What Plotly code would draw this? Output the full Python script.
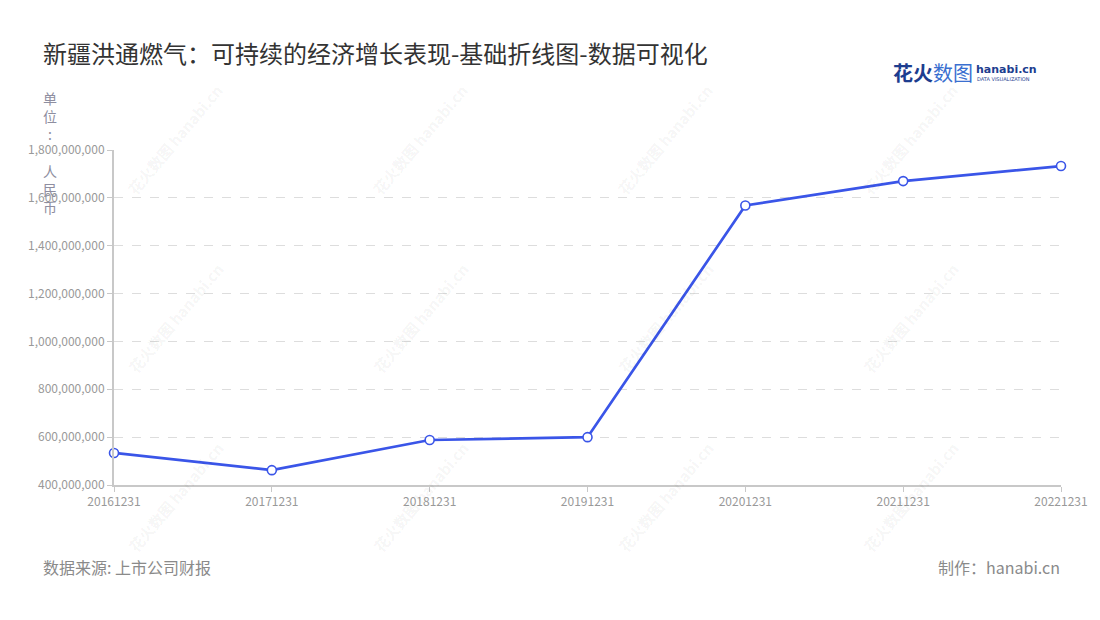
import plotly.graph_objects as go

categories = ["20161231", "20171231", "20181231", "20191231", "20201231", "20211231", "20221231"]
values = [534000000, 462000000, 588000000, 600000000, 1568000000, 1670000000, 1733000000]
y_ticks = [400000000, 600000000, 800000000, 1000000000, 1200000000, 1400000000, 1600000000, 1800000000]

title_text = "新疆洪通燃气：可持续的经济增长表现-基础折线图-数据可视化"
unit_text = "单<br>位<br>:<br> <br>人<br>民<br>币"
source_text = "数据来源: 上市公司财报"
maker_text = "制作：hanabi.cn"

FONT = "Noto Sans CJK SC, Noto Sans, sans-serif"
W, H = 1100, 620
L, R, T, B = 114, 39, 150, 135
PW, PH = W - L - R, H - T - B

def px(x):
    return (x - L) / PW

def py(y):
    return (H - B - y) / PH

fig = go.Figure()
fig.add_trace(go.Scatter(
    x=categories, y=values, mode="lines+markers",
    line=dict(color="#3a55e8", width=2.7),
    marker=dict(size=9, color="#ffffff", line=dict(color="#3a55e8", width=1.6)),
    cliponaxis=False, hoverinfo="x+y",
))

annotations = []
# watermarks
wm_cols = [175, 420, 665, 910]
wm_rows = [140, 318, 497]
for cx in wm_cols:
    for cy in wm_rows:
        annotations.append(dict(
            xref="paper", yref="paper", x=px(cx), y=py(cy),
            text="<b>花火数图</b> <b>hanabi.cn</b>", showarrow=False, textangle=-50,
            font=dict(family=FONT, size=15, color="rgba(0,0,0,0.055)"),
            xanchor="center", yanchor="middle"))

annotations += [
    dict(xref="paper", yref="paper", x=px(50), y=py(86), text=unit_text, showarrow=False,
         xanchor="center", yanchor="top", align="center",
         font=dict(family=FONT, size=14, color="#8e8ea0")),
    dict(xref="paper", yref="paper", x=px(41), y=py(567), text=source_text, showarrow=False,
         xanchor="left", yanchor="middle", font=dict(family=FONT, size=16, color="#8a8a8a")),
    dict(xref="paper", yref="paper", x=px(1062), y=py(567), text=maker_text, showarrow=False,
         xanchor="right", yanchor="middle", font=dict(family=FONT, size=16, color="#8a8a8a")),
    # logo
    dict(xref="paper", yref="paper", x=px(891), y=py(72), showarrow=False,
         text="<b><span style='color:#1d3d8f'>花火</span></b><span style='color:#3a6fd0'>数图</span>",
         xanchor="left", yanchor="middle", font=dict(family=FONT, size=20)),
    dict(xref="paper", yref="paper", x=px(974), y=py(69), showarrow=False,
         text="<b>hanabi.cn</b>", xanchor="left", yanchor="middle",
         font=dict(family="DejaVu Sans, sans-serif", size=11, color="#1d3d8f")),
    dict(xref="paper", yref="paper", x=px(975), y=py(79), showarrow=False,
         text="DATA VISUALIZATION", xanchor="left", yanchor="middle",
         font=dict(family="DejaVu Sans, sans-serif", size=5, color="#1d3d8f")),
]

fig.update_layout(
    width=W, height=H,
    margin=dict(l=L, r=R, t=T, b=B),
    paper_bgcolor="#ffffff", plot_bgcolor="#ffffff",
    showlegend=False,
    font=dict(family=FONT),
    title=dict(text=title_text, xref="container", yref="container",
               x=43 / W, y=1 - 55 / H, xanchor="left", yanchor="middle",
               font=dict(family=FONT, size=24, color="#333333")),
    annotations=annotations,
)
fig.update_xaxes(
    type="category", range=[0, len(categories) - 1],
    showgrid=False, zeroline=False,
    showline=True, linecolor="#c8c8c8", linewidth=2,
    ticks="outside", ticklen=5, tickcolor="#c8c8c8", tickwidth=1,
    tickfont=dict(family=FONT, size=12, color="#999999"),
)
fig.update_yaxes(
    range=[400000000, 1800000000], tickvals=y_ticks, tickformat=",d",
    showgrid=True, gridcolor="#dddddd", griddash="dash", gridwidth=1,
    zeroline=False,
    showline=True, linecolor="#c8c8c8", linewidth=2,
    ticks="outside", ticklen=5, tickcolor="#c8c8c8", tickwidth=1,
    tickfont=dict(family=FONT, size=12, color="#999999"),
)

fig.write_html("out.html", config={"displayModeBar": False},
               post_script="document.body.style.margin='0';")
